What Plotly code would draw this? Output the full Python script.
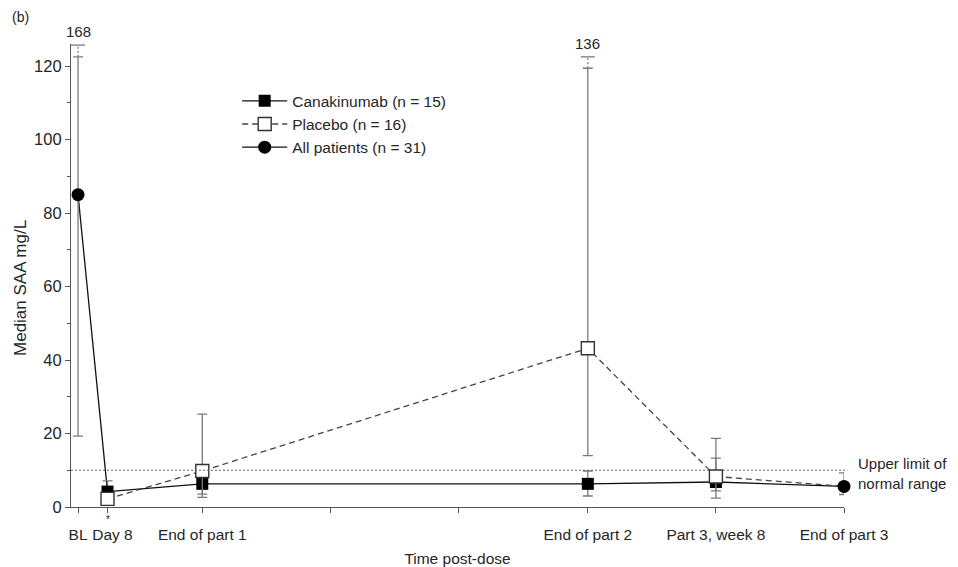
import plotly.graph_objects as go

# ---------------- data ----------------
# time points (arbitrary, evenly spaced study scale)
BL, D8, E1, E2, P3W8, E3 = 0.0, 0.23, 0.97, 3.98, 4.98, 5.98
tick_pos = [BL, D8, E1, 1.97, 2.97, E2, P3W8, E3]
tick_labels = ["BL", "", "End of part 1", "", "", "End of part 2", "Part 3, week 8", "End of part 3"]
day8_label = "Day 8"

cana_x = [BL, D8, E1, E2, P3W8, E3]
cana_y = [85, 4.2, 6.3, 6.3, 6.8, 5.6]
cana_lo = [85, 3.0, 3.5, 3.0, 4.4, 5.6]
cana_hi = [85, 7.1, 8.5, 9.8, 13.3, 5.6]

plac_x = [D8, E1, E2, P3W8, E3]
plac_y = [2.2, 9.8, 43.2, 8.3, 5.6]
plac_lo = [1.0, 2.6, 14.0, 2.4, 5.6]
plac_hi = [3.5, 25.3, 136, 18.7, 5.6]

all_x = [BL, E3]
all_y = [85, 5.6]
all_lo = [19.3, 3.4]
all_hi = [168, 9.3]

ULN = 10  # upper limit of normal range, mg/L

# display of off-scale whiskers: value -> (end of solid part, cap position)
off_scale = {168: (122.5, 125.7), 136: (119.4, 122.5)}

# ---------------- styling ----------------
FONT = "Liberation Sans, Arial, Helvetica, sans-serif"
TXT = "#262626"
AX = "#555555"
ERR = "#7a7a7a"
XR = [-0.055, 5.98]
YR = [0, 126]
CANA_LINE = dict(color="#111111", width=1.3)
PLAC_LINE = dict(color="#444444", width=1.3, dash="6px,4px")


def err_arrays(y, lo, hi):
    plus, minus = [], []
    for v, l, h in zip(y, lo, hi):
        top = off_scale[h][0] if h in off_scale else h
        plus.append(top - v)
        minus.append(v - l)
    return plus, minus


fig = go.Figure()

# connecting segments to the shared (all patients) time points, no markers
for xs, ys, ln in ((cana_x[:2], cana_y[:2], CANA_LINE), (cana_x[-2:], cana_y[-2:], CANA_LINE),
                   (plac_x[-2:], plac_y[-2:], PLAC_LINE)):
    fig.add_trace(go.Scatter(x=xs, y=ys, mode="lines", line=ln, showlegend=False,
                             hoverinfo="skip", cliponaxis=False))

# Canakinumab (randomised period)
p, m = err_arrays(cana_y[1:-1], cana_lo[1:-1], cana_hi[1:-1])
fig.add_trace(go.Scatter(
    x=cana_x[1:-1], y=cana_y[1:-1], mode="lines+markers", name="Canakinumab (n = 15)",
    line=CANA_LINE,
    marker=dict(symbol="square", color="#000000", size=12, line=dict(width=0)),
    error_y=dict(type="data", array=p, arrayminus=m, color=ERR, thickness=1.3, width=5),
    cliponaxis=False,
))

# Placebo (randomised period)
p, m = err_arrays(plac_y[:-1], plac_lo[:-1], plac_hi[:-1])
fig.add_trace(go.Scatter(
    x=plac_x[:-1], y=plac_y[:-1], mode="lines+markers", name="Placebo (n = 16)",
    line=PLAC_LINE,
    marker=dict(symbol="square", color="white", size=13, line=dict(color="#333333", width=1.4)),
    error_y=dict(type="data", array=p, arrayminus=m, color=ERR, thickness=1.3, width=5),
    cliponaxis=False,
))

# All patients
p, m = err_arrays(all_y, all_lo, all_hi)
fig.add_trace(go.Scatter(
    x=[all_x[0], None, all_x[1]], y=[all_y[0], None, all_y[1]],
    mode="lines+markers", name="All patients (n = 31)",
    line=dict(color="#111111", width=1.3),
    marker=dict(symbol="circle", color="#000000", size=13, line=dict(width=0)),
    error_y=dict(type="data", array=[p[0], 0, p[1]], arrayminus=[m[0], 0, m[1]],
                 color=ERR, thickness=1.3, width=5),
    cliponaxis=False,
))

# off-scale whiskers: dotted continuation, cap and value label
# (drawn on the overlaid x2 axis, which has the same range, so it also carries the "Day 8" tick)
annotations = []
for xs, hs in ((all_x, all_hi), (plac_x, plac_hi)):
    for x, h in zip(xs, hs):
        if h in off_scale:
            s, c = off_scale[h]
            fig.add_trace(go.Scatter(
                x=[x, x], y=[s, c], mode="lines", showlegend=False, hoverinfo="skip",
                xaxis="x2", line=dict(color=ERR, width=1.3, dash="2px,2px"), cliponaxis=False))
            fig.add_trace(go.Scatter(
                x=[x], y=[c], mode="markers", showlegend=False, hoverinfo="skip",
                xaxis="x2",
                marker=dict(symbol="line-ew-open", size=10, color=ERR,
                            line=dict(color=ERR, width=1.3)),
                cliponaxis=False))
            annotations.append(dict(x=x, y=c, xref="x", yref="y", text=str(h), showarrow=False,
                                    yanchor="bottom", yshift=3,
                                    font=dict(size=15, color=TXT, family=FONT)))

# reference line
fig.add_shape(type="line", xref="paper", yref="y", x0=0, x1=1.004, y0=ULN, y1=ULN,
              line=dict(color="#666666", width=1.2, dash="2px,2px"))

annotations += [
    dict(x=1.016, y=ULN - 0.9, xref="paper", yref="y", text="Upper limit of<br>normal range",
         showarrow=False, xanchor="left", yanchor="middle", align="left",
         font=dict(size=15, color=TXT, family=FONT)),
    dict(x=D8, y=0, xref="x", yref="y", text="*", showarrow=False, yanchor="top", yshift=-6,
         borderpad=0, font=dict(size=10, color=TXT, family=FONT)),
    dict(x=-0.079, y=1.058, xref="paper", yref="paper", text="(b)", showarrow=False,
         xanchor="left", yanchor="middle", font=dict(size=14, color=TXT, family=FONT)),
    dict(x=-0.066, y=0.473, xref="paper", yref="paper", text="Median SAA mg/L", showarrow=False,
         textangle=-90, xanchor="center", yanchor="middle",
         font=dict(size=17, color=TXT, family=FONT)),
]

tickfont = dict(size=15.5, color=TXT, family=FONT)

fig.update_layout(
    width=958, height=567,
    margin=dict(l=71, r=114, t=44, b=60),
    paper_bgcolor="white", plot_bgcolor="white",
    font=dict(family=FONT, color=TXT, size=15.5),
    showlegend=True,
    legend=dict(x=0.215, y=0.913, xanchor="left", yanchor="top", bgcolor="rgba(0,0,0,0)",
                font=dict(size=15.5, color=TXT, family=FONT), itemwidth=45),
    annotations=annotations,
    xaxis=dict(range=XR, tickvals=tick_pos, ticktext=tick_labels, ticks="outside", ticklen=5,
               tickcolor=AX, showline=True, linecolor=AX, linewidth=1.2, showgrid=False,
               zeroline=False, tickfont=tickfont, ticklabelstandoff=8, automargin=False,
               title=dict(text="Time post-dose", font=dict(size=15.5, color=TXT, family=FONT),
                          standoff=13)),
    xaxis2=dict(range=XR, overlaying="x", anchor="y", side="bottom", tickvals=[D8],
                ticktext=[day8_label], ticks="outside", ticklen=5, tickcolor="rgba(0,0,0,0)",
                showline=False, showgrid=False, zeroline=False, tickfont=tickfont,
                ticklabelstandoff=8, ticklabelshift=5, automargin=False),
    yaxis=dict(range=YR, tickvals=[0, 20, 40, 60, 80, 100, 120], ticks="outside", ticklen=5,
               tickcolor=AX, showline=True, linecolor=AX, linewidth=1.2, showgrid=False,
               zeroline=False, tickfont=dict(size=16.5, color=TXT, family=FONT),
               automargin=False,
               minor=dict(tickvals=[10, 30, 50, 70, 90, 110], ticks="outside", ticklen=3,
                          tickcolor=AX)),
)

# the page's default body margin would offset the figure by 8 px
fig.write_html("out.html", config={"displayModeBar": False},
               post_script="document.body.style.margin='0';")
